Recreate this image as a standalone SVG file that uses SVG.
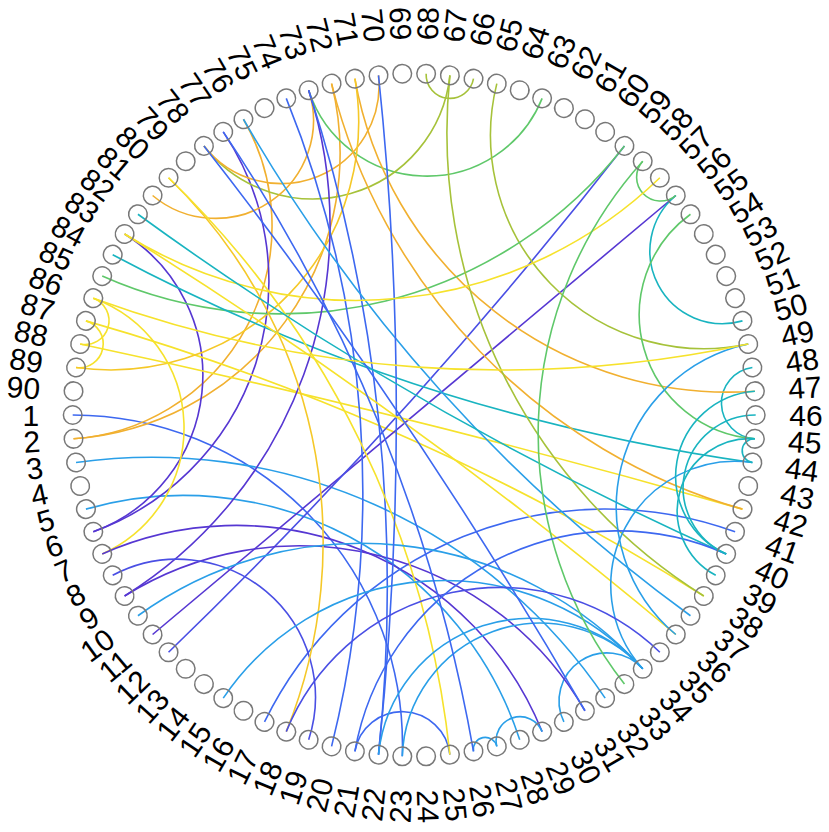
<svg xmlns="http://www.w3.org/2000/svg" width="829" height="832" viewBox="0 0 829 832">
<style>
.nd circle{fill:none;stroke:#787878;stroke-width:1.5}
.nd text{font-family:"Liberation Sans",Arial,sans-serif;font-size:30px;fill:#000;dominant-baseline:central}
.l text{text-anchor:end}
#edges path{fill:none;stroke-width:1.6}
.P{stroke:#5637d2}.BP{stroke:#4a4fe4}.B{stroke:#3d68f0}.LB{stroke:#2a9fe8}.T{stroke:#19b4c0}.G{stroke:#5fc86a}.O{stroke:#a6c23a}.Y{stroke:#f6e22c}.GD{stroke:#f5c828}.OR{stroke:#f1b030}
</style>
<rect width="829" height="832" fill="#fff"/>
<g id="edges">
<path class="B" d="M72.7 415A329.8 329.8 0 0 1 402.28 756.29"/>
<path class="OR" d="M73.53 438.82A213.4 213.4 0 0 0 243.45 119.25"/>
<path class="OR" d="M73.53 438.82A286.6 286.6 0 0 0 331.58 83.64"/>
<path class="LB" d="M76.02 462.53A546.5 546.5 0 0 1 605.16 698.12"/>
<path class="LB" d="M85.93 509.13A353.6 353.6 0 0 1 519.73 739.79"/>
<path class="P" d="M93.29 531.8A166.6 166.6 0 0 0 124.59 234.03"/>
<path class="P" d="M223.24 131.88A266.8 266.8 0 0 1 93.29 531.8"/>
<path class="Y" d="M102.22 553.9A138 138 0 0 0 93.29 298.2"/>
<path class="P" d="M102.22 553.9A329.8 329.8 0 0 1 542.13 731.63"/>
<path class="Y" d="M93.29 298.2A23.88 23.88 0 0 1 80.16 344"/>
<path class="Y" d="M85.93 320.87A23.88 23.88 0 0 1 76.02 367.47"/>
<path class="Y" d="M85.93 320.87A2429.9 2429.9 0 0 1 703.81 595.97"/>
<path class="P" d="M152.6 634.51L675.8 195.49"/>
<path class="BP" d="M168.55 652.23A4883.7 4883.7 0 0 0 624.45 145.89"/>
<path class="B" d="M354.9 751.31A48 48 0 0 1 449.9 754.63"/>
<path class="LB" d="M473.5 751.31A11.93 11.93 0 0 1 496.82 746.36"/>
<path class="LB" d="M496.82 746.36A23.88 23.88 0 0 1 542.13 731.63"/>
<path class="LB" d="M563.9 721.94A48 48 0 0 1 642.71 668.78"/>
<path class="T" d="M752.38 367.47A35.89 35.89 0 0 0 754.87 438.82"/>
<path class="T" d="M675.8 195.49A72.59 72.59 0 0 0 742.47 320.87"/>
<path class="G" d="M642.71 161.22A23.88 23.88 0 0 0 675.8 195.49"/>
<path class="G" d="M308.67 90.21A124.3 124.3 0 0 0 542.13 98.37"/>
<path class="O" d="M426.12 73.71A23.88 23.88 0 0 0 473.5 78.69"/>
<path class="O" d="M496.82 83.64A213.4 213.4 0 0 0 748.24 344"/>
<path class="O" d="M203.95 145.89A138 138 0 0 0 449.9 75.37"/>
<path class="OR" d="M203.95 145.89A97.92 97.92 0 0 0 378.5 75.37"/>
<path class="OR" d="M152.6 195.49A97.92 97.92 0 0 0 308.67 90.21"/>
<path class="OR" d="M354.9 78.69A379.3 379.3 0 0 0 754.87 391.18"/>
<path class="GD" d="M76.02 367.47A248.1 248.1 0 0 0 354.9 78.69"/>
<path class="Y" d="M80.16 344A9779 9779 0 0 1 742.47 509.13"/>
<path class="G" d="M690.48 214.27A124.3 124.3 0 0 0 754.87 438.82"/>
<path class="G" d="M102.22 276.1A437.1 437.1 0 0 0 624.45 145.89"/>
<path class="T" d="M112.67 254.68A1936.7 1936.7 0 0 0 752.38 462.53"/>
<path class="B" d="M264.5 721.94A379.3 379.3 0 0 1 735.11 531.8"/>
<path class="P" d="M124.59 595.97A329.8 329.8 0 0 1 584.95 710.75"/>
<path class="P" d="M308.67 90.21A437.1 437.1 0 0 1 124.59 595.97"/>
<path class="BP" d="M308.67 739.79A138 138 0 0 0 112.67 575.32"/>
<path class="B" d="M308.67 90.21A1606.6 1606.6 0 0 1 378.5 754.63"/>
<path class="B" d="M286.27 98.37A1051 1051 0 0 1 331.58 746.36"/>
<path class="OR" d="M331.58 83.64A591.5 591.5 0 0 0 742.47 509.13"/>
<path class="GD" d="M286.27 731.63A506.3 506.3 0 0 0 168.55 177.77"/>
<path class="Y" d="M449.9 754.63A938.3 938.3 0 0 0 168.55 177.77"/>
<path class="LB" d="M223.24 698.12A266.8 266.8 0 0 1 642.71 668.78"/>
<path class="LB" d="M137.92 615.73A379.3 379.3 0 0 1 642.71 668.78"/>
<path class="LB" d="M243.45 119.25A1606.6 1606.6 0 0 0 690.48 615.73"/>
<path class="B" d="M378.5 75.37A3249.2 3249.2 0 0 1 378.5 754.63"/>
<path class="O" d="M449.9 75.37A546.5 546.5 0 0 0 703.81 595.97"/>
<path class="Y" d="M124.59 234.03A4883.7 4883.7 0 0 1 675.8 634.51"/>
<path class="Y" d="M659.85 177.77A437.1 437.1 0 0 1 124.59 234.03"/>
<path class="T" d="M137.92 214.27A3249 3249 0 0 0 726.18 553.9"/>
<path class="LB" d="M378.5 754.63A152 152 0 0 1 642.71 668.78"/>
<path class="LB" d="M402.28 756.29A138 138 0 0 1 642.71 668.78"/>
<path class="LB" d="M752.38 462.53A124.3 124.3 0 0 0 642.71 668.78"/>
<path class="LB" d="M748.24 344A166.55 166.55 0 0 0 675.8 634.51"/>
<path class="G" d="M642.71 161.22A407 407 0 0 0 624.45 684.11"/>
<path class="BP" d="M659.85 652.23A230.3 230.3 0 0 0 286.27 731.63"/>
<path class="B" d="M223.24 131.88A1606.6 1606.6 0 0 1 473.5 751.31"/>
<path class="B" d="M203.95 145.89A4883.7 4883.7 0 0 1 584.95 710.75"/>
<path class="Y" d="M93.29 298.2A1191 1191 0 0 0 748.24 344"/>
<path class="B" d="M354.9 751.31A266.8 266.8 0 0 1 726.18 553.9"/>
<path class="T" d="M754.87 391.18A85.14 85.14 0 0 0 726.18 553.9"/>
<path class="T" d="M755.7 415A72.59 72.59 0 0 0 726.18 553.9"/>
<path class="T" d="M754.87 438.82A72.59 72.59 0 0 0 715.73 575.32"/>
<path class="T" d="M754.87 438.82A11.93 11.93 0 0 0 752.38 462.53"/>
</g>
<g id="nodes" transform="translate(414.2 415)">
<g id="n1" class="nd l" transform="rotate(0)"><circle cx="-341.5" cy="0" r="9.3"/><text x="-375">1</text></g>
<g id="n2" class="nd l" transform="rotate(-4)"><circle cx="-341.5" cy="0" r="9.3"/><text x="-375">2</text></g>
<g id="n3" class="nd l" transform="rotate(-8)"><circle cx="-341.5" cy="0" r="9.3"/><text x="-375">3</text></g>
<g id="n4" class="nd l" transform="rotate(-12)"><circle cx="-341.5" cy="0" r="9.3"/><text x="-375">4</text></g>
<g id="n5" class="nd l" transform="rotate(-16)"><circle cx="-341.5" cy="0" r="9.3"/><text x="-375">5</text></g>
<g id="n6" class="nd l" transform="rotate(-20)"><circle cx="-341.5" cy="0" r="9.3"/><text x="-375">6</text></g>
<g id="n7" class="nd l" transform="rotate(-24)"><circle cx="-341.5" cy="0" r="9.3"/><text x="-375">7</text></g>
<g id="n8" class="nd l" transform="rotate(-28)"><circle cx="-341.5" cy="0" r="9.3"/><text x="-375">8</text></g>
<g id="n9" class="nd l" transform="rotate(-32)"><circle cx="-341.5" cy="0" r="9.3"/><text x="-375">9</text></g>
<g id="n10" class="nd l" transform="rotate(-36)"><circle cx="-341.5" cy="0" r="9.3"/><text x="-375">10</text></g>
<g id="n11" class="nd l" transform="rotate(-40)"><circle cx="-341.5" cy="0" r="9.3"/><text x="-375">11</text></g>
<g id="n12" class="nd l" transform="rotate(-44)"><circle cx="-341.5" cy="0" r="9.3"/><text x="-375">12</text></g>
<g id="n13" class="nd l" transform="rotate(-48)"><circle cx="-341.5" cy="0" r="9.3"/><text x="-375">13</text></g>
<g id="n14" class="nd l" transform="rotate(-52)"><circle cx="-341.5" cy="0" r="9.3"/><text x="-375">14</text></g>
<g id="n15" class="nd l" transform="rotate(-56)"><circle cx="-341.5" cy="0" r="9.3"/><text x="-375">15</text></g>
<g id="n16" class="nd l" transform="rotate(-60)"><circle cx="-341.5" cy="0" r="9.3"/><text x="-375">16</text></g>
<g id="n17" class="nd l" transform="rotate(-64)"><circle cx="-341.5" cy="0" r="9.3"/><text x="-375">17</text></g>
<g id="n18" class="nd l" transform="rotate(-68)"><circle cx="-341.5" cy="0" r="9.3"/><text x="-375">18</text></g>
<g id="n19" class="nd l" transform="rotate(-72)"><circle cx="-341.5" cy="0" r="9.3"/><text x="-375">19</text></g>
<g id="n20" class="nd l" transform="rotate(-76)"><circle cx="-341.5" cy="0" r="9.3"/><text x="-375">20</text></g>
<g id="n21" class="nd l" transform="rotate(-80)"><circle cx="-341.5" cy="0" r="9.3"/><text x="-375">21</text></g>
<g id="n22" class="nd l" transform="rotate(-84)"><circle cx="-341.5" cy="0" r="9.3"/><text x="-375">22</text></g>
<g id="n23" class="nd l" transform="rotate(-88)"><circle cx="-341.5" cy="0" r="9.3"/><text x="-375">23</text></g>
<g id="n24" class="nd" transform="rotate(88)"><circle cx="341.5" cy="0" r="9.3"/><text x="375">24</text></g>
<g id="n25" class="nd" transform="rotate(84)"><circle cx="341.5" cy="0" r="9.3"/><text x="375">25</text></g>
<g id="n26" class="nd" transform="rotate(80)"><circle cx="341.5" cy="0" r="9.3"/><text x="375">26</text></g>
<g id="n27" class="nd" transform="rotate(76)"><circle cx="341.5" cy="0" r="9.3"/><text x="375">27</text></g>
<g id="n28" class="nd" transform="rotate(72)"><circle cx="341.5" cy="0" r="9.3"/><text x="375">28</text></g>
<g id="n29" class="nd" transform="rotate(68)"><circle cx="341.5" cy="0" r="9.3"/><text x="375">29</text></g>
<g id="n30" class="nd" transform="rotate(64)"><circle cx="341.5" cy="0" r="9.3"/><text x="375">30</text></g>
<g id="n31" class="nd" transform="rotate(60)"><circle cx="341.5" cy="0" r="9.3"/><text x="375">31</text></g>
<g id="n32" class="nd" transform="rotate(56)"><circle cx="341.5" cy="0" r="9.3"/><text x="375">32</text></g>
<g id="n33" class="nd" transform="rotate(52)"><circle cx="341.5" cy="0" r="9.3"/><text x="375">33</text></g>
<g id="n34" class="nd" transform="rotate(48)"><circle cx="341.5" cy="0" r="9.3"/><text x="375">34</text></g>
<g id="n35" class="nd" transform="rotate(44)"><circle cx="341.5" cy="0" r="9.3"/><text x="375">35</text></g>
<g id="n36" class="nd" transform="rotate(40)"><circle cx="341.5" cy="0" r="9.3"/><text x="375">36</text></g>
<g id="n37" class="nd" transform="rotate(36)"><circle cx="341.5" cy="0" r="9.3"/><text x="375">37</text></g>
<g id="n38" class="nd" transform="rotate(32)"><circle cx="341.5" cy="0" r="9.3"/><text x="375">38</text></g>
<g id="n39" class="nd" transform="rotate(28)"><circle cx="341.5" cy="0" r="9.3"/><text x="375">39</text></g>
<g id="n40" class="nd" transform="rotate(24)"><circle cx="341.5" cy="0" r="9.3"/><text x="375">40</text></g>
<g id="n41" class="nd" transform="rotate(20)"><circle cx="341.5" cy="0" r="9.3"/><text x="375">41</text></g>
<g id="n42" class="nd" transform="rotate(16)"><circle cx="341.5" cy="0" r="9.3"/><text x="375">42</text></g>
<g id="n43" class="nd" transform="rotate(12)"><circle cx="341.5" cy="0" r="9.3"/><text x="375">43</text></g>
<g id="n44" class="nd" transform="rotate(8)"><circle cx="341.5" cy="0" r="9.3"/><text x="375">44</text></g>
<g id="n45" class="nd" transform="rotate(4)"><circle cx="341.5" cy="0" r="9.3"/><text x="375">45</text></g>
<g id="n46" class="nd" transform="rotate(0)"><circle cx="341.5" cy="0" r="9.3"/><text x="375">46</text></g>
<g id="n47" class="nd" transform="rotate(-4)"><circle cx="341.5" cy="0" r="9.3"/><text x="375">47</text></g>
<g id="n48" class="nd" transform="rotate(-8)"><circle cx="341.5" cy="0" r="9.3"/><text x="375">48</text></g>
<g id="n49" class="nd" transform="rotate(-12)"><circle cx="341.5" cy="0" r="9.3"/><text x="375">49</text></g>
<g id="n50" class="nd" transform="rotate(-16)"><circle cx="341.5" cy="0" r="9.3"/><text x="375">50</text></g>
<g id="n51" class="nd" transform="rotate(-20)"><circle cx="341.5" cy="0" r="9.3"/><text x="375">51</text></g>
<g id="n52" class="nd" transform="rotate(-24)"><circle cx="341.5" cy="0" r="9.3"/><text x="375">52</text></g>
<g id="n53" class="nd" transform="rotate(-28)"><circle cx="341.5" cy="0" r="9.3"/><text x="375">53</text></g>
<g id="n54" class="nd" transform="rotate(-32)"><circle cx="341.5" cy="0" r="9.3"/><text x="375">54</text></g>
<g id="n55" class="nd" transform="rotate(-36)"><circle cx="341.5" cy="0" r="9.3"/><text x="375">55</text></g>
<g id="n56" class="nd" transform="rotate(-40)"><circle cx="341.5" cy="0" r="9.3"/><text x="375">56</text></g>
<g id="n57" class="nd" transform="rotate(-44)"><circle cx="341.5" cy="0" r="9.3"/><text x="375">57</text></g>
<g id="n58" class="nd" transform="rotate(-48)"><circle cx="341.5" cy="0" r="9.3"/><text x="375">58</text></g>
<g id="n59" class="nd" transform="rotate(-52)"><circle cx="341.5" cy="0" r="9.3"/><text x="375">59</text></g>
<g id="n60" class="nd" transform="rotate(-56)"><circle cx="341.5" cy="0" r="9.3"/><text x="375">60</text></g>
<g id="n61" class="nd" transform="rotate(-60)"><circle cx="341.5" cy="0" r="9.3"/><text x="375">61</text></g>
<g id="n62" class="nd" transform="rotate(-64)"><circle cx="341.5" cy="0" r="9.3"/><text x="375">62</text></g>
<g id="n63" class="nd" transform="rotate(-68)"><circle cx="341.5" cy="0" r="9.3"/><text x="375">63</text></g>
<g id="n64" class="nd" transform="rotate(-72)"><circle cx="341.5" cy="0" r="9.3"/><text x="375">64</text></g>
<g id="n65" class="nd" transform="rotate(-76)"><circle cx="341.5" cy="0" r="9.3"/><text x="375">65</text></g>
<g id="n66" class="nd" transform="rotate(-80)"><circle cx="341.5" cy="0" r="9.3"/><text x="375">66</text></g>
<g id="n67" class="nd" transform="rotate(-84)"><circle cx="341.5" cy="0" r="9.3"/><text x="375">67</text></g>
<g id="n68" class="nd" transform="rotate(-88)"><circle cx="341.5" cy="0" r="9.3"/><text x="375">68</text></g>
<g id="n69" class="nd l" transform="rotate(88)"><circle cx="-341.5" cy="0" r="9.3"/><text x="-375">69</text></g>
<g id="n70" class="nd l" transform="rotate(84)"><circle cx="-341.5" cy="0" r="9.3"/><text x="-375">70</text></g>
<g id="n71" class="nd l" transform="rotate(80)"><circle cx="-341.5" cy="0" r="9.3"/><text x="-375">71</text></g>
<g id="n72" class="nd l" transform="rotate(76)"><circle cx="-341.5" cy="0" r="9.3"/><text x="-375">72</text></g>
<g id="n73" class="nd l" transform="rotate(72)"><circle cx="-341.5" cy="0" r="9.3"/><text x="-375">73</text></g>
<g id="n74" class="nd l" transform="rotate(68)"><circle cx="-341.5" cy="0" r="9.3"/><text x="-375">74</text></g>
<g id="n75" class="nd l" transform="rotate(64)"><circle cx="-341.5" cy="0" r="9.3"/><text x="-375">75</text></g>
<g id="n76" class="nd l" transform="rotate(60)"><circle cx="-341.5" cy="0" r="9.3"/><text x="-375">76</text></g>
<g id="n77" class="nd l" transform="rotate(56)"><circle cx="-341.5" cy="0" r="9.3"/><text x="-375">77</text></g>
<g id="n78" class="nd l" transform="rotate(52)"><circle cx="-341.5" cy="0" r="9.3"/><text x="-375">78</text></g>
<g id="n79" class="nd l" transform="rotate(48)"><circle cx="-341.5" cy="0" r="9.3"/><text x="-375">79</text></g>
<g id="n80" class="nd l" transform="rotate(44)"><circle cx="-341.5" cy="0" r="9.3"/><text x="-375">80</text></g>
<g id="n81" class="nd l" transform="rotate(40)"><circle cx="-341.5" cy="0" r="9.3"/><text x="-375">81</text></g>
<g id="n82" class="nd l" transform="rotate(36)"><circle cx="-341.5" cy="0" r="9.3"/><text x="-375">82</text></g>
<g id="n83" class="nd l" transform="rotate(32)"><circle cx="-341.5" cy="0" r="9.3"/><text x="-375">83</text></g>
<g id="n84" class="nd l" transform="rotate(28)"><circle cx="-341.5" cy="0" r="9.3"/><text x="-375">84</text></g>
<g id="n85" class="nd l" transform="rotate(24)"><circle cx="-341.5" cy="0" r="9.3"/><text x="-375">85</text></g>
<g id="n86" class="nd l" transform="rotate(20)"><circle cx="-341.5" cy="0" r="9.3"/><text x="-375">86</text></g>
<g id="n87" class="nd l" transform="rotate(16)"><circle cx="-341.5" cy="0" r="9.3"/><text x="-375">87</text></g>
<g id="n88" class="nd l" transform="rotate(12)"><circle cx="-341.5" cy="0" r="9.3"/><text x="-375">88</text></g>
<g id="n89" class="nd l" transform="rotate(8)"><circle cx="-341.5" cy="0" r="9.3"/><text x="-375">89</text></g>
<g id="n90" class="nd l" transform="rotate(4)"><circle cx="-341.5" cy="0" r="9.3"/><text x="-375">90</text></g>
</g>
</svg>
